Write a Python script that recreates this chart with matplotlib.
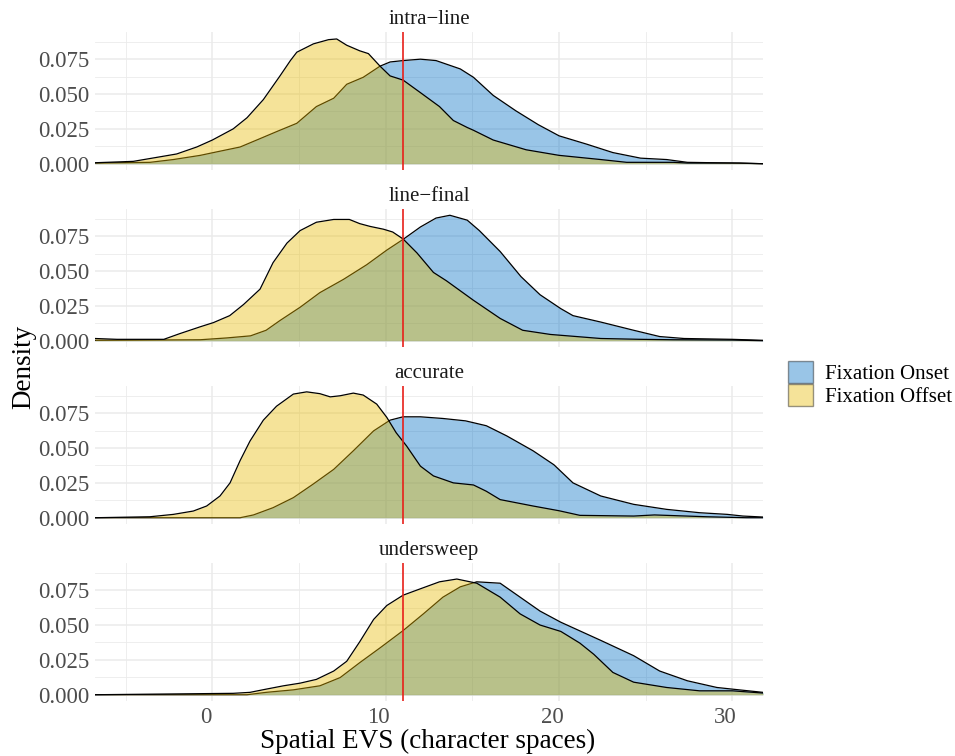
import matplotlib.pyplot as plt
import matplotlib.transforms as mtransforms
from matplotlib.patches import Patch
from matplotlib.ticker import MultipleLocator

plt.rcParams['font.family'] = ['Liberation Serif', 'DejaVu Serif']

panels = ['intra\u2212line', 'line\u2212final', 'accurate', 'undersweep']

# density curves (x, density) per facet and group
on_intra_x = [-6.77, -3.6, -2.25, -0.7, 0.06, 1.6, 2.75, 3.7, 4.87, 6, 7, 7.75, 8.7, 9.67,
              10.25, 11, 12, 12.9, 14.3, 15.06, 16.2, 17.5, 18.8, 20, 21.6, 23.1, 24.7,
              26.2, 27.4, 30, 31.76]
on_intra_y = [0.0005, 0.001, 0.003, 0.006, 0.008, 0.012, 0.018, 0.023, 0.029, 0.041, 0.047,
              0.057, 0.062, 0.070, 0.073, 0.074, 0.075, 0.074, 0.068, 0.062, 0.049, 0.038,
              0.028, 0.020, 0.014, 0.008, 0.004, 0.003, 0.001, 0.0005, 0.0]
off_intra_x = [-6.77, -4.56, -3, -2.06, -0.9, 0, 1.2, 2, 2.94, 3.9, 4.5, 4.87, 5.83, 6.7,
               7.17, 7.75, 8.5, 9, 9.67, 10.25, 11, 12, 13.1, 13.9, 14.7, 15.06, 16.2, 18.1,
               20, 22.4, 23.9, 26.6, 27.4, 30.4, 31.76]
off_intra_y = [0.0007, 0.0017, 0.005, 0.007, 0.012, 0.017, 0.025, 0.033, 0.046, 0.063, 0.074,
               0.080, 0.086, 0.089, 0.0895, 0.085, 0.081, 0.079, 0.070, 0.063, 0.060, 0.051,
               0.041, 0.031, 0.026, 0.024, 0.017, 0.010, 0.006, 0.003, 0.001, 0.001, 0.0005,
               0.0005, 0.0]

on_final_x = [-6.77, -0.7, 0.83, 2.2, 3.1, 3.9, 5.06, 6.2, 7.56, 8.9, 10.06, 11, 12, 12.9,
              13.7, 14.7, 15.4, 16.6, 17.8, 18.9, 20.1, 20.8, 22.4, 24.3, 25.8, 27.2, 30,
              31.76]
on_final_y = [0.0003, 0.0007, 0.002, 0.0035, 0.0075, 0.0145, 0.024, 0.0345, 0.044, 0.0545,
              0.065, 0.0727, 0.0816, 0.088, 0.090, 0.0865, 0.079, 0.064, 0.046, 0.033, 0.023,
              0.018, 0.0134, 0.0075, 0.003, 0.0016, 0.001, 0.0003]
off_final_x = [-6.77, -5.5, -2.8, -1.9, -0.7, 0.06, 1, 1.8, 2.75, 3.5, 4.3, 5.06, 6, 7, 7.9,
               8.5, 9.1, 9.87, 10.4, 11, 11.8, 12.75, 13.5, 15.06, 16.6, 17.9, 19.5, 22.4,
               24.7, 26.6, 30, 31.76]
off_final_y = [0.0016, 0.001, 0.001, 0.005, 0.010, 0.013, 0.018, 0.026, 0.037, 0.056, 0.070,
               0.079, 0.085, 0.087, 0.087, 0.084, 0.082, 0.080, 0.078, 0.073, 0.063, 0.049,
               0.043, 0.029, 0.016, 0.0075, 0.0045, 0.0016, 0.001, 0.0007, 0.0005, 0.0]

on_acc_x = [-6.77, 1.6, 2.37, 3.5, 4.67, 5.8, 7, 8.13, 9.3, 10.25, 11, 12, 13.3, 14.6, 15.8,
            16.98, 18.5, 19.7, 20.8, 22.4, 24.3, 26.2, 28.1, 29.7, 30.6, 31.76]
on_acc_y = [0.0, 0.0, 0.002, 0.0072, 0.0144, 0.024, 0.0347, 0.048, 0.0623, 0.070, 0.0724,
            0.0724, 0.0712, 0.0695, 0.066, 0.0587, 0.048, 0.038, 0.025, 0.0156, 0.0096,
            0.006, 0.0036, 0.0024, 0.0012, 0.0005]
off_acc_x = [-6.77, -3.6, -2.25, -1.1, -0.33, 0.44, 1.02, 1.6, 2.17, 2.94, 3.7, 4.67, 5.44,
             6.2, 6.8, 7.37, 8.13, 8.7, 9.48, 10.06, 10.6, 11.2, 12, 12.75, 13.9, 15.06, 15.8,
             16.6, 18.5, 20, 21.2, 24.3, 25.5, 28.5, 30.8, 31.76]
off_acc_y = [0.0, 0.0007, 0.0024, 0.0048, 0.0084, 0.0156, 0.025, 0.041, 0.055, 0.070, 0.080,
             0.0887, 0.0903, 0.089, 0.0867, 0.0875, 0.0894, 0.088, 0.0815, 0.072, 0.061,
             0.0515, 0.037, 0.030, 0.025, 0.0235, 0.019, 0.013, 0.0084, 0.005, 0.0017,
             0.0012, 0.002, 0.0007, 0.0, 0.0]

on_under_x = [-6.77, 2, 3.1, 4.67, 6.2, 7.37, 8.5, 9.67, 11, 12.17, 13.3, 14.3, 15.25, 16.6,
              17.75, 18.9, 20.1, 22.4, 24.3, 25.8, 27.4, 29.1, 30, 31.76]
on_under_y = [0.0, 0.0, 0.0017, 0.0035, 0.0064, 0.0123, 0.023, 0.0336, 0.046, 0.058, 0.070,
              0.0774, 0.081, 0.080, 0.070, 0.060, 0.052, 0.039, 0.028, 0.017, 0.010, 0.0052,
              0.004, 0.0017]
off_under_x = [-6.77, 1.2, 2.17, 3.1, 4.1, 5.06, 6, 7, 7.75, 8.5, 9.3, 10.06, 11, 12, 13.1,
               14.1, 15.25, 16.6, 17.75, 18.9, 20.1, 21.2, 22, 23.1, 24.3, 26.2, 28.1, 30,
               31.76]
off_under_y = [0.0, 0.001, 0.0017, 0.004, 0.0064, 0.0083, 0.011, 0.017, 0.024, 0.038, 0.054,
               0.064, 0.0714, 0.076, 0.081, 0.083, 0.080, 0.070, 0.058, 0.050, 0.0454, 0.037,
               0.029, 0.016, 0.009, 0.0052, 0.0028, 0.0028, 0.0012]

onset = [(on_intra_x, on_intra_y), (on_final_x, on_final_y),
         (on_acc_x, on_acc_y), (on_under_x, on_under_y)]
offset = [(off_intra_x, off_intra_y), (off_final_x, off_final_y),
          (off_acc_x, off_acc_y), (off_under_x, off_under_y)]

vline = 11
blue = '#006EC5'
yellow = '#E8BB00'
alpha = 0.4

W, H = 955, 756
fig = plt.figure(figsize=(W / 100, H / 100), dpi=100)

left, right = 95, 763
tops = [32, 209, 386, 563]
ph = 138
shift = mtransforms.ScaledTranslation(-7 / 100, 0, fig.dpi_scale_trans)

for i in range(4):
    ax = fig.add_axes([left / W, 1 - (tops[i] + ph) / H, (right - left) / W, ph / H])
    ox, oy = onset[i]
    fx, fy = offset[i]
    ax.fill_between(ox, oy, color=blue, alpha=alpha, lw=0, zorder=2)
    ax.plot(ox, oy, color='black', lw=0.9, zorder=2.1)
    ax.fill_between(fx, fy, color=yellow, alpha=alpha, lw=0, zorder=2.2)
    ax.plot(fx, fy, color='black', lw=0.9, zorder=2.3)
    ax.axvline(vline, color='#E8201A', lw=1.2, zorder=3)

    ax.set_xlim(-6.77, 31.76)
    ax.set_ylim(-0.0045, 0.0945)
    ax.xaxis.set_major_locator(MultipleLocator(10))
    ax.xaxis.set_minor_locator(MultipleLocator(5))
    ax.yaxis.set_major_locator(MultipleLocator(0.025))
    ax.yaxis.set_minor_locator(MultipleLocator(0.0125))
    ax.grid(which='major', color='#EBEBEB', lw=1.1, zorder=0)
    ax.grid(which='minor', color='#EBEBEB', lw=0.6, zorder=0)
    ax.set_axisbelow(True)
    for s in ax.spines.values():
        s.set_visible(False)
    ax.tick_params(which='both', length=0, labelsize=16.5, labelcolor='#4D4D4D', pad=4)
    ax.set_yticks([0, 0.025, 0.05, 0.075])
    ax.set_yticklabels(['0.000', '0.025', '0.050', '0.075'])
    if i < 3:
        ax.set_xticklabels([])
    else:
        for lab in ax.get_xticklabels():
            lab.set_transform(lab.get_transform() + shift)
    ax.text(0.5, 1.02, panels[i], transform=ax.transAxes, ha='center', va='bottom',
            fontsize=15, color='#1A1A1A')

fig.text(428 / W, 1 - 741 / H, 'Spatial EVS (character spaces)', ha='center', va='center',
         fontsize=19.5)
fig.text(24 / W, 1 - 367 / H, 'Density', ha='center', va='center', rotation=90, fontsize=19.5)

handles = [Patch(facecolor=blue, alpha=alpha, edgecolor='black', lw=1),
           Patch(facecolor=yellow, alpha=alpha, edgecolor='black', lw=1)]
leg = fig.legend(handles, ['Fixation Onset', 'Fixation Offset'], loc='center left',
                 bbox_to_anchor=(780 / W, 1 - 384 / H), frameon=False, fontsize=15,
                 labelspacing=0.0, handlelength=1.2, handleheight=1.25, handletextpad=0.55,
                 borderaxespad=0)
for h in leg.legend_handles:
    h.set_edgecolor('black')

fig.savefig('out.png', dpi=100)
